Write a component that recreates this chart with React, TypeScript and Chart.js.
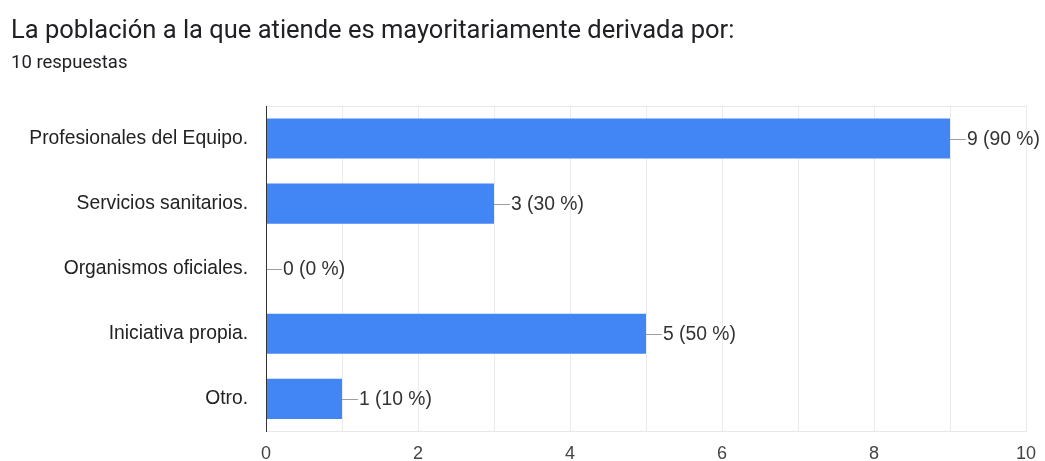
import React, { useEffect, useRef } from "react";
import { Chart, registerables } from "chart.js";

Chart.register(...registerables);

const TITLE = "La población a la que atiende es mayoritariamente derivada por:";
const SUBTITLE = "10 respuestas";
const TOTAL = 10;
const categories = [
  "Profesionales del Equipo.",
  "Servicios sanitarios.",
  "Organismos oficiales.",
  "Iniciativa propia.",
  "Otro.",
];
const counts = [9, 3, 0, 5, 1];
const xTicks = [0, 2, 4, 6, 8, 10];

const TFONT = "Roboto, 'Noto Sans', Arial, sans-serif";
const FONT = "'Liberation Sans', Arial, Helvetica, sans-serif";

const titlePlugin = {
  id: "formTitle",
  beforeDraw(chart: any) {
    const ctx = chart.ctx;
    ctx.save();
    ctx.fillStyle = "#202124";
    ctx.textAlign = "left";
    ctx.textBaseline = "alphabetic";
    ctx.font = `25.5px ${TFONT}`;
    ctx.fillText(TITLE, 11, 38);
    ctx.font = `18.5px ${TFONT}`;
    ctx.fillStyle = "#202124";
    ctx.fillText(SUBTITLE, 11, 68);
    ctx.restore();
  },
  afterDraw(chart: any) {
    const { ctx, chartArea } = chart;
    ctx.save();
    ctx.strokeStyle = "#e8e8e8";
    ctx.lineWidth = 1;
    ctx.beginPath();
    ctx.moveTo(chartArea.left, Math.round(chartArea.top) + 0.5);
    ctx.lineTo(chartArea.right, Math.round(chartArea.top) + 0.5);
    ctx.stroke();
    ctx.strokeStyle = "#333333";
    ctx.beginPath();
    ctx.moveTo(Math.round(chartArea.left) + 0.5, chartArea.top);
    ctx.lineTo(Math.round(chartArea.left) + 0.5, chartArea.bottom);
    ctx.stroke();
    ctx.restore();
  },
};

const labelPlugin = {
  id: "barLabels",
  afterDatasetsDraw(chart: any) {
    const ctx = chart.ctx;
    const meta = chart.getDatasetMeta(0);
    ctx.save();
    ctx.font = `19.3px ${FONT}`;
    ctx.textBaseline = "middle";
    ctx.textAlign = "left";
    meta.data.forEach((bar: any, i: number) => {
      const v = counts[i];
      const x = bar.x;
      const y = Math.round(bar.y) + 0.5;
      ctx.strokeStyle = "#9e9e9e";
      ctx.lineWidth = 1;
      ctx.beginPath();
      ctx.moveTo(x, y);
      ctx.lineTo(x + 16, y);
      ctx.stroke();
      ctx.fillStyle = "#333333";
      ctx.fillText(`${v} (${Math.round((v / TOTAL) * 100)} %)`, x + 17, bar.y + 1);
    });
    ctx.restore();
  },
};

export default function App() {
  const ref = useRef<HTMLCanvasElement>(null);
  useEffect(() => {
    if (!ref.current) return;
    const chart = new Chart(ref.current, {
      type: "bar",
      data: {
        labels: categories,
        datasets: [
          {
            data: counts,
            backgroundColor: "#4285f4",
            borderWidth: 0,
            categoryPercentage: 1,
            barPercentage: 0.615,
          },
        ],
      },
      options: {
        indexAxis: "y",
        animation: false,
        responsive: false,
        events: [],
        layout: { padding: { top: 106, right: 19, left: 0, bottom: 0 } },
        plugins: {
          legend: { display: false },
          title: { display: false },
          tooltip: { enabled: false },
        },
        scales: {
          x: {
            min: 0,
            max: 10,
            afterBuildTicks(scale: any) {
              const t = [];
              for (let i = 0; i <= 10; i++) t.push({ value: i });
              scale.ticks = t;
            },
            afterFit(scale: any) {
              scale.height = 29;
              scale.paddingLeft = 0;
              scale.paddingRight = 0;
            },
            ticks: {
              autoSkip: false,
              maxRotation: 0,
              padding: 12,
              color: "#444444",
              font: { family: FONT, size: 18 },
              callback: (v: any) => (xTicks.includes(Number(v)) ? String(v) : ""),
            },
            grid: {
              drawTicks: false,
              color: "#ebebeb",
              lineWidth: 1,
            },
            border: { display: true, color: "#e8e8e8" },
          },
          y: {
            afterFit(scale: any) {
              scale.width = 266;
            },
            ticks: {
              padding: 18,
              color: "#222222",
              font: { family: FONT, size: 19.3 },
            },
            grid: { display: false, drawTicks: false },
            border: { display: true, color: "#333333" },
          },
        },
      },
      plugins: [titlePlugin, labelPlugin],
    });
    return () => chart.destroy();
  }, []);
  return (
    <div style={{ position: "fixed", left: 0, top: 0, width: 1045, height: 461, background: "#fff" }}>
      <canvas ref={ref} width={1045} height={461} style={{ display: "block" }} />
    </div>
  );
}
